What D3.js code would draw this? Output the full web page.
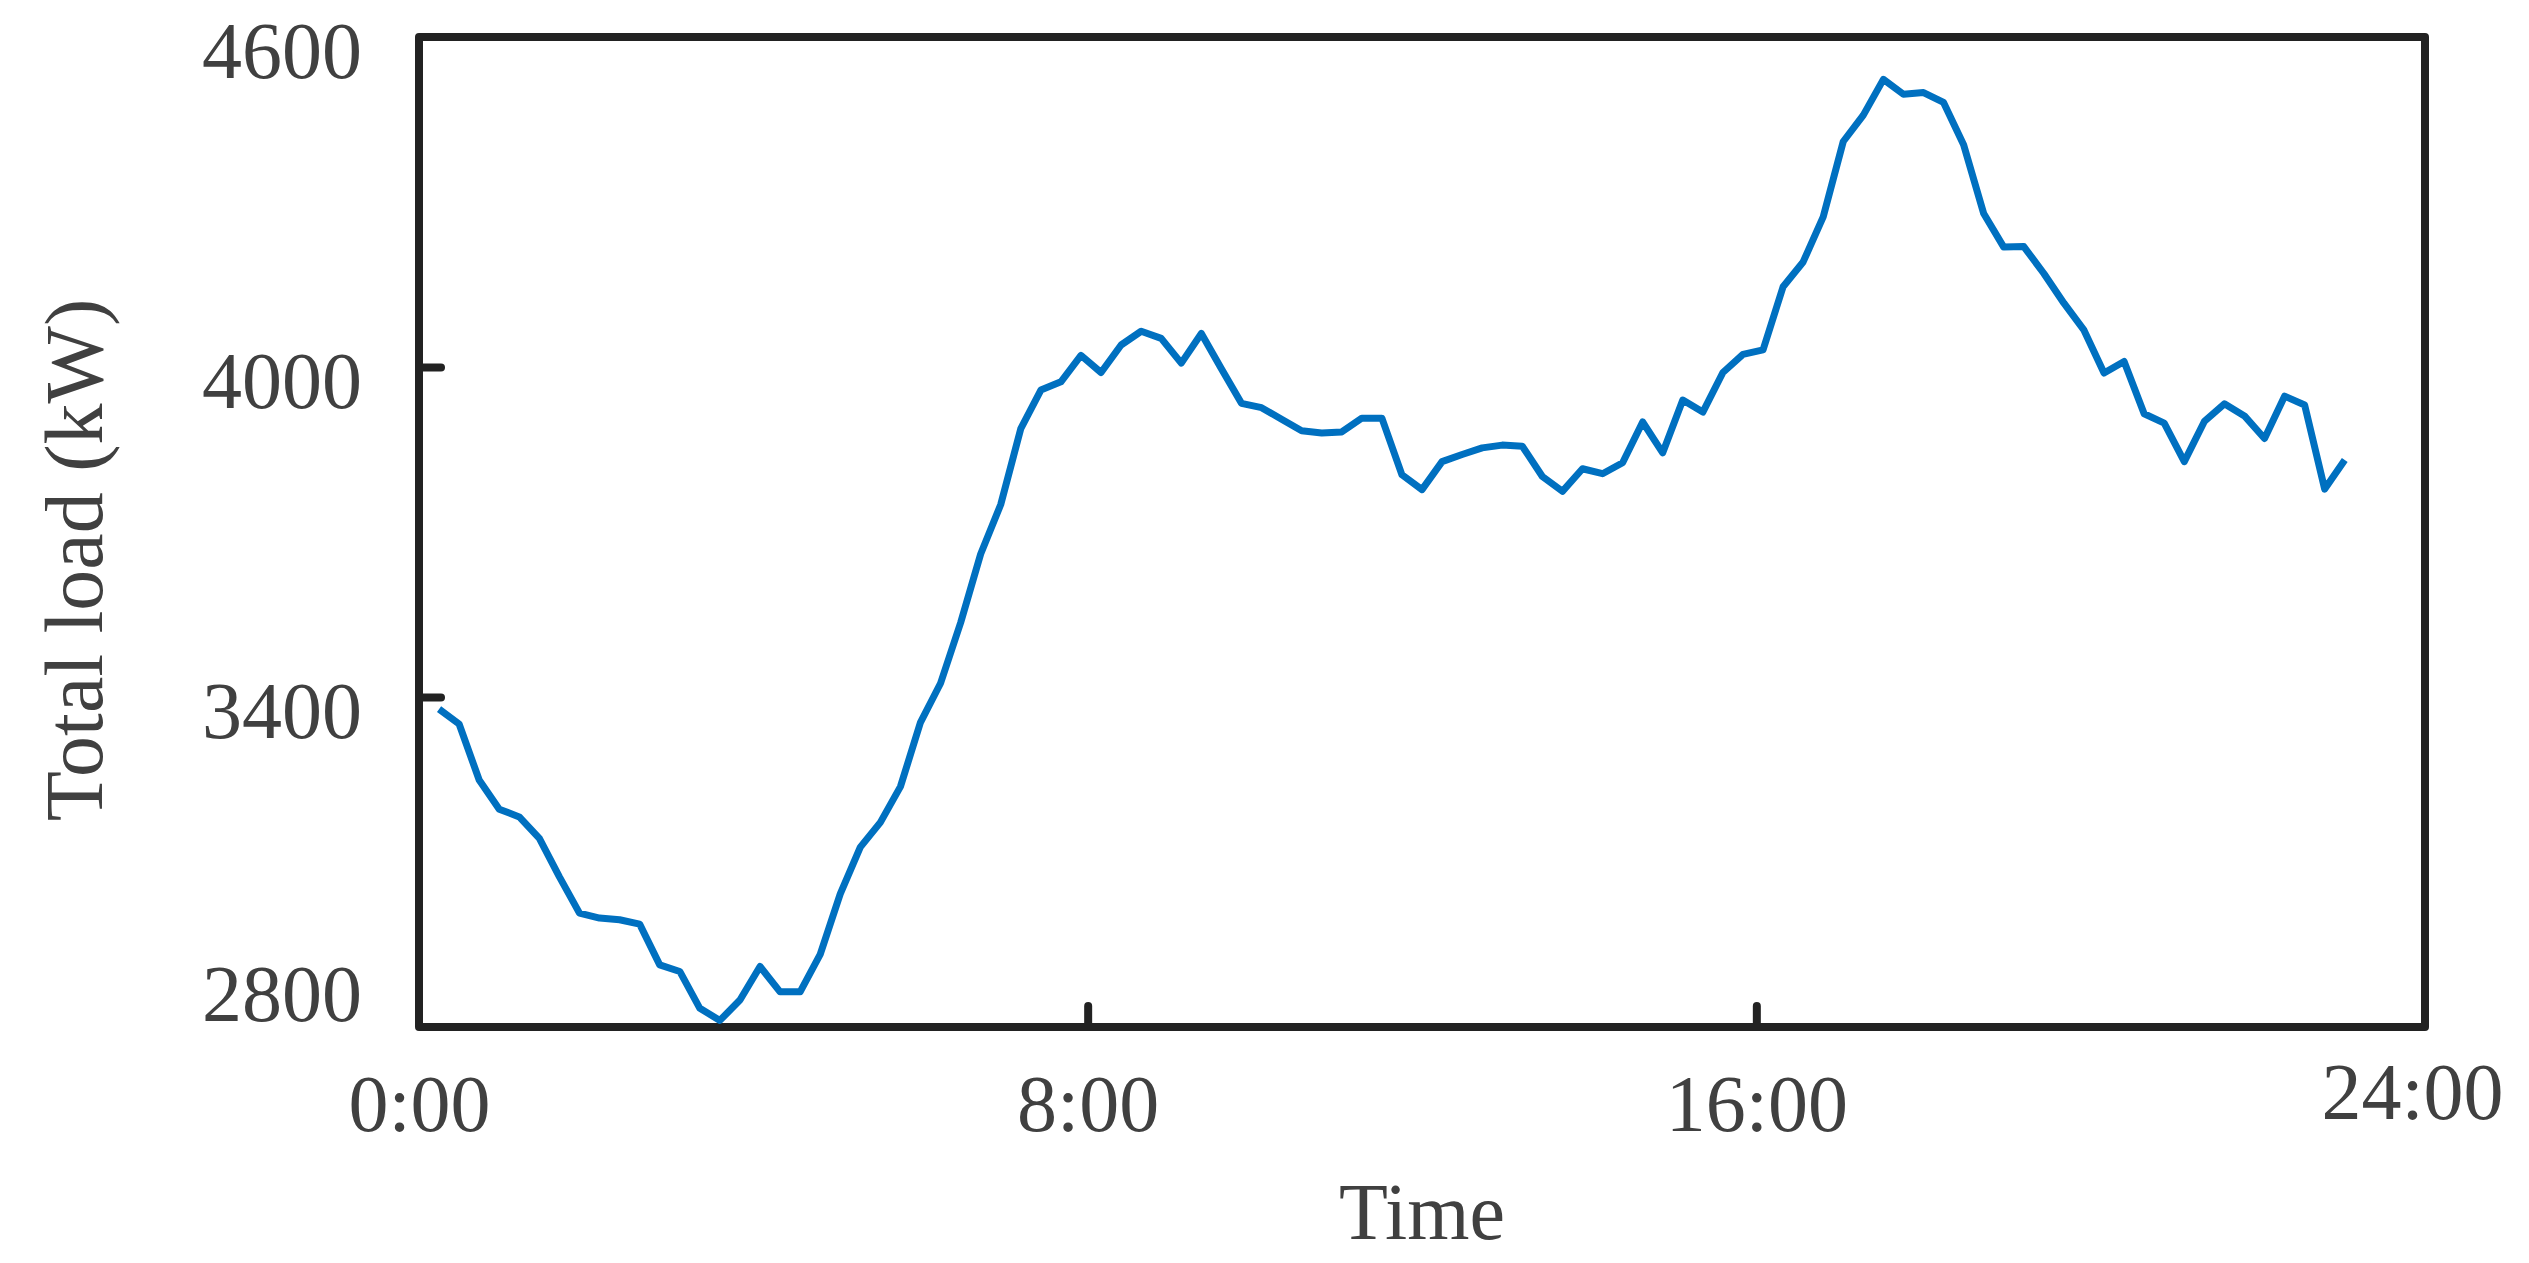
<!DOCTYPE html>
<html>
<head>
<meta charset="utf-8">
<script src="https://cdn.jsdelivr.net/npm/d3@7"></script>
<style>
  html, body { margin: 0; padding: 0; background: #ffffff; }
  svg { display: block; }
  text { font-family: "Liberation Serif", "Times New Roman", serif; fill: #404040; }
</style>
</head>
<body>
<svg id="chart" width="2529" height="1263"></svg>
<script>
// ---- data (96 quarter-hour samples, kW) ----
const totalLoad = [
  3378, 3351, 3249, 3196, 3182, 3143, 3073, 3007, 2998, 2995, 2987, 2913,
  2901, 2834, 2812, 2849, 2910, 2864, 2864, 2932, 3042, 3127, 3172, 3237,
  3354, 3425, 3535, 3660, 3750, 3888, 3958, 3973, 4021, 3990, 4040, 4065,
  4052, 4007, 4061, 3997, 3934, 3926, 3905, 3884, 3880, 3882, 3907, 3907,
  3804, 3777, 3828, 3841, 3853, 3858, 3856, 3801, 3774, 3815, 3806, 3826,
  3900, 3844, 3940, 3918, 3990, 4023, 4031, 4146, 4191, 4273, 4410, 4458,
  4523, 4496, 4499, 4481, 4404, 4279, 4218, 4219, 4170, 4116, 4067, 3989,
  4010, 3915, 3898, 3828, 3901, 3933, 3911, 3870, 3947, 3931, 3778, 3831
];
const sampleIndex = d3.range(1, totalLoad.length + 1);
const xTickValues = [0, 100 / 3, 200 / 3, 100];
const xTickLabels = ["0:00", "8:00", "16:00", "24:00"];
const yTickValues = [2800, 3400, 4000, 4600];
const yTitle = "Total load (kW)";
const xTitle = "Time";

// ---- layout ----
const plotL = 419, plotR = 2425, plotT = 37, plotB = 1027;
const svg = d3.select("#chart");

const x = d3.scaleLinear().domain([0, 100]).range([plotL, plotR]);
const y = d3.scaleLinear().domain([2800, 4600]).range([plotB, plotT]);

// inner tick marks (y)
const yTicks = d3.axisLeft(y).tickValues(yTickValues.slice(1, -1))
  .tickSizeInner(-22).tickSizeOuter(0).tickFormat("");
const gyt = svg.append("g").attr("transform", `translate(${plotL},0)`).call(yTicks);
gyt.select(".domain").remove();
gyt.selectAll("line").attr("stroke", "#222").attr("stroke-width", 8).attr("stroke-linecap", "round");

// inner tick marks (x)
const xTicks = d3.axisBottom(x).tickValues(xTickValues.slice(1, -1))
  .tickSizeInner(-21).tickSizeOuter(0).tickFormat("");
const gxt = svg.append("g").attr("transform", `translate(0,${plotB})`).call(xTicks);
gxt.select(".domain").remove();
gxt.selectAll("line").attr("stroke", "#222").attr("stroke-width", 8).attr("stroke-linecap", "round");

// frame
svg.append("rect")
  .attr("x", plotL).attr("y", plotT)
  .attr("width", plotR - plotL).attr("height", plotB - plotT)
  .attr("fill", "none").attr("stroke", "#222").attr("stroke-width", 8)
  .attr("stroke-linejoin", "round");

// y labels
const yLab = d3.axisLeft(y).tickValues(yTickValues).tickSize(0).tickPadding(57)
  .tickFormat(d3.format("d"));
const gyl = svg.append("g").attr("transform", `translate(${plotL},0)`).call(yLab);
gyl.select(".domain").remove();
gyl.selectAll("text")
  .attr("font-family", "Liberation Serif, Times New Roman, serif")
  .attr("font-size", 80).attr("fill", "#404040")
  .attr("dy", d => d === 2800 ? "-0.08em" : "0.5em");

// x labels
const xLab = d3.axisBottom(x).tickValues(xTickValues).tickSize(0).tickPadding(0)
  .tickFormat((d, i) => xTickLabels[i]);
const gxl = svg.append("g").attr("transform", `translate(0,${plotB})`).call(xLab);
gxl.select(".domain").remove();
gxl.selectAll("text")
  .attr("font-family", "Liberation Serif, Times New Roman, serif")
  .attr("font-size", 80).attr("fill", "#404040")
  .attr("y", (d, i) => i === xTickValues.length - 1 ? 92 : 104)
  .attr("dx", (d, i) => i === xTickValues.length - 1 ? -13 : 0)
  .attr("dy", 0);

// line
const line = d3.line().x((d, i) => x(sampleIndex[i])).y(d => y(d));
svg.append("path").datum(totalLoad)
  .attr("d", line)
  .attr("fill", "none").attr("stroke", "#0070C0")
  .attr("stroke-width", 7).attr("stroke-linejoin", "round");

// axis titles
svg.append("text")
  .attr("transform", "translate(102,560) rotate(-90)")
  .attr("text-anchor", "middle").attr("font-size", 82)
  .text(yTitle);
svg.append("text")
  .attr("x", (plotL + plotR) / 2).attr("y", 1239)
  .attr("text-anchor", "middle").attr("font-size", 80)
  .text(xTitle);
</script>
</body>
</html>
